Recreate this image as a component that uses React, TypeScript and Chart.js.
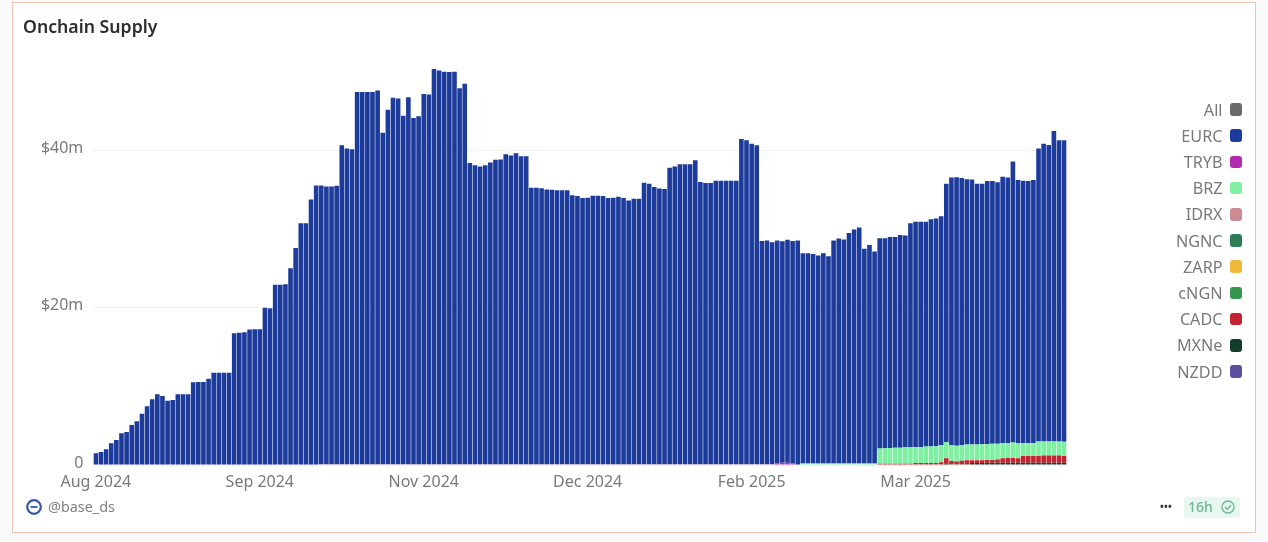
import { useEffect, useRef } from 'react';
import { Chart, registerables } from 'chart.js';

Chart.register(...registerables);

// one x label every 32 bars
const monthTicks = ['Aug 2024', 'Sep 2024', 'Nov 2024', 'Dec 2024', 'Feb 2025', 'Mar 2025'];
const yTicks = [0, 20, 40];
const LABEL_EVERY = 32;

// values in $m
const eurc = [
  1.48, 1.65, 1.99, 2.75, 3.17, 4.02, 4.19, 5.08, 5.54, 6.5,
  7.45, 8.34, 9.0, 8.76, 8.17, 8.25, 8.97, 8.99, 9.0, 10.5,
  10.55, 10.55, 10.96, 11.73, 11.73, 11.73, 11.73, 16.72, 16.8, 16.85,
  17.2, 17.25, 17.25, 19.98, 19.9, 22.9, 22.9, 22.95, 25.0, 27.55,
  30.7, 30.7, 33.7, 35.5, 35.4, 35.25, 35.25, 35.35, 40.5, 40.1,
  40.0, 47.25, 47.25, 47.25, 47.25, 47.45, 42.1, 45.0, 46.55, 46.45,
  44.25, 46.6, 43.95, 44.2, 47.0, 46.95, 50.2, 50.0, 49.85, 49.8,
  49.85, 47.75, 48.3, 38.25, 37.95, 37.8, 37.95, 38.3, 38.65, 38.7,
  39.35, 39.2, 39.5, 39.1, 39.1, 35.1, 35.1, 35.05, 34.9, 34.85,
  34.8, 34.8, 34.8, 34.15, 34.05, 33.8, 33.85, 34.1, 34.1, 34.05,
  33.8, 33.85, 33.95, 33.8, 33.5, 33.7, 33.7, 35.75, 35.6, 35.2,
  35.0, 34.95, 37.65, 37.8, 38.1, 38.1, 38.1, 38.6, 35.85, 35.7,
  35.7, 36.0, 36.0, 36.0, 36.0, 36.0, 41.3, 41.15, 40.7, 40.5,
  28.35, 28.4, 28.2, 28.3, 28.1, 28.3, 28.25, 28.5, 26.7, 26.7,
  26.6, 26.4, 26.7, 26.3, 28.3, 28.55, 28.45, 29.25, 29.7, 29.95,
  27.25, 27.75, 26.9, 26.7, 26.65, 26.8, 26.75, 27.0, 26.9, 28.45,
  28.6, 28.6, 28.55, 28.85, 28.9, 29.1, 32.8, 34.0, 34.1, 33.9,
  33.7, 33.65, 33.1, 33.05, 33.4, 33.35, 33.2, 33.85, 33.7, 35.7,
  33.4, 33.3, 33.3, 33.45, 37.2, 37.8, 37.65, 39.4, 38.25, 38.3,
];
const tryb = [
  0, 0, 0, 0, 0, 0, 0, 0, 0, 0, 0, 0, 0, 0, 0, 0, 0, 0, 0, 0,
  0, 0, 0, 0, 0, 0, 0, 0, 0, 0, 0, 0, 0, 0, 0, 0, 0, 0, 0, 0,
  0, 0, 0, 0, 0, 0, 0, 0, 0, 0, 0, 0, 0, 0, 0, 0, 0, 0, 0, 0,
  0, 0, 0, 0, 0, 0, 0, 0, 0, 0, 0, 0, 0, 0, 0, 0, 0, 0, 0, 0,
  0, 0, 0, 0, 0, 0, 0, 0, 0, 0, 0, 0, 0, 0, 0, 0, 0, 0, 0, 0,
  0, 0, 0, 0, 0, 0, 0, 0, 0, 0, 0, 0, 0, 0, 0, 0, 0, 0, 0, 0,
  0, 0, 0, 0, 0, 0, 0, 0, 0, 0, 0, 0, 0, 0.2, 0.3, 0.3, 0.2, 0, 0, 0,
  0, 0, 0, 0, 0, 0, 0, 0, 0, 0, 0, 0, 0, 0, 0, 0, 0, 0, 0, 0,
  0, 0, 0, 0, 0, 0, 0, 0, 0, 0, 0, 0, 0, 0, 0, 0, 0, 0, 0, 0, 0, 0, 0, 0, 0, 0, 0, 0, 0, 0,
];
const brz = [
  0, 0, 0, 0, 0, 0, 0, 0, 0, 0, 0, 0, 0, 0, 0, 0, 0, 0, 0, 0,
  0, 0, 0, 0, 0, 0, 0, 0, 0, 0, 0, 0, 0, 0, 0, 0, 0, 0, 0, 0,
  0, 0, 0, 0, 0, 0, 0, 0, 0, 0, 0, 0, 0, 0, 0, 0, 0, 0, 0, 0,
  0, 0, 0, 0, 0, 0, 0, 0, 0, 0, 0, 0, 0, 0, 0, 0, 0, 0, 0, 0,
  0, 0, 0, 0, 0, 0, 0, 0, 0, 0, 0, 0, 0, 0, 0, 0, 0, 0, 0, 0,
  0, 0, 0, 0, 0, 0, 0, 0, 0, 0, 0, 0, 0, 0, 0, 0, 0, 0, 0, 0,
  0, 0, 0, 0, 0, 0, 0, 0, 0, 0, 0, 0, 0, 0, 0, 0, 0, 0,
  0.2, 0.2, 0.2, 0.2, 0.2, 0.2, 0.2, 0.2, 0.2, 0.2, 0.2, 0.2, 0.2, 0.2, 0.2,
  1.95, 2.0, 2.0, 2.05, 2.05, 2.1, 2.1, 2.05, 2.05, 2.1, 2.1, 2.15, 2.15, 2.05, 2.0, 2.0, 2.0, 2.0, 2.0,
  2.0, 2.05, 2.0, 2.05, 2.0, 1.9, 1.9, 1.95, 1.95, 1.65, 1.6, 1.6, 1.85, 1.8, 1.8, 1.8, 1.8, 1.8,
];
const idrx = [
  0, 0, 0, 0, 0, 0, 0, 0, 0, 0, 0, 0, 0, 0, 0, 0, 0, 0, 0, 0,
  0, 0, 0, 0, 0, 0, 0, 0, 0, 0, 0, 0, 0, 0, 0, 0, 0, 0, 0, 0, 0, 0, 0, 0,
  0.1, 0.1, 0.1, 0.1, 0.1, 0.1, 0.1, 0.1, 0.1, 0.1, 0.1, 0.1, 0.1, 0.1, 0.1, 0.1, 0.1, 0.1, 0.1, 0.1,
  0.1, 0.1, 0.1, 0.1, 0.1, 0.1, 0.1, 0.1, 0.1, 0.1, 0.1, 0.1, 0.1, 0.1, 0.1, 0.1, 0.1, 0.1, 0.1, 0.1,
  0.1, 0.1, 0.1, 0.1, 0.1, 0.1, 0.1, 0.1, 0.1, 0.1, 0.1, 0.1, 0.1, 0.1, 0.1, 0.1, 0.1, 0.1, 0.1, 0.1,
  0.1, 0.1, 0.1, 0.1, 0.1, 0.1, 0.1, 0.1, 0.1, 0.1, 0.1, 0.1, 0.1, 0.1, 0.1, 0.1, 0.1, 0.1, 0.1, 0.1,
  0.1, 0.1, 0.1, 0.1, 0.1, 0.1, 0.1, 0.1, 0.1,
  0, 0, 0, 0, 0, 0, 0, 0, 0, 0, 0, 0, 0, 0, 0, 0, 0, 0, 0, 0,
  0, 0, 0, 0, 0, 0, 0, 0, 0, 0, 0, 0, 0, 0, 0, 0, 0, 0, 0, 0,
  0, 0, 0, 0, 0, 0, 0, 0, 0, 0, 0, 0, 0, 0, 0, 0, 0,
];
const cadc = [
  0, 0, 0, 0, 0, 0, 0, 0, 0, 0, 0, 0, 0, 0, 0, 0, 0, 0, 0, 0,
  0, 0, 0, 0, 0, 0, 0, 0, 0, 0, 0, 0, 0, 0, 0, 0, 0, 0, 0, 0,
  0, 0, 0, 0, 0, 0, 0, 0, 0, 0, 0, 0, 0, 0, 0, 0, 0, 0, 0, 0,
  0, 0, 0, 0, 0, 0, 0, 0, 0, 0, 0, 0, 0, 0, 0, 0, 0, 0, 0, 0,
  0, 0, 0, 0, 0, 0, 0, 0, 0, 0, 0, 0, 0, 0, 0, 0, 0, 0, 0, 0,
  0, 0, 0, 0, 0, 0, 0, 0, 0, 0, 0, 0, 0, 0, 0, 0, 0, 0, 0, 0,
  0, 0, 0, 0, 0, 0, 0, 0, 0, 0, 0, 0, 0, 0, 0, 0, 0, 0, 0, 0,
  0, 0, 0, 0, 0, 0, 0, 0, 0, 0, 0, 0, 0,
  0.1, 0.1, 0.1, 0.1, 0.1, 0.1, 0.1, 0.2, 0.2, 0.2, 0.2, 0.2, 0.3, 0.7, 0.4, 0.35, 0.45, 0.5, 0.35,
  0.35, 0.35, 0.35, 0.35, 0.4, 0.55, 0.6, 0.6, 0.55, 0.85, 0.85, 0.85, 0.85, 0.9, 0.9, 0.9, 0.9, 0.85,
];
const mxne = [
  0, 0, 0, 0, 0, 0, 0, 0, 0, 0, 0, 0, 0, 0, 0, 0, 0, 0, 0, 0,
  0, 0, 0, 0, 0, 0, 0, 0, 0, 0, 0, 0, 0, 0, 0, 0, 0, 0, 0, 0,
  0, 0, 0, 0, 0, 0, 0, 0, 0, 0, 0, 0, 0, 0, 0, 0, 0, 0, 0, 0,
  0, 0, 0, 0, 0, 0, 0, 0, 0, 0, 0, 0, 0, 0, 0, 0, 0, 0, 0, 0,
  0, 0, 0, 0, 0, 0, 0, 0, 0, 0, 0, 0, 0, 0, 0, 0, 0, 0, 0, 0,
  0, 0, 0, 0, 0, 0, 0, 0, 0, 0, 0, 0, 0, 0, 0, 0, 0, 0, 0, 0,
  0, 0, 0, 0, 0, 0, 0, 0, 0, 0, 0, 0, 0, 0, 0, 0, 0, 0, 0, 0,
  0, 0, 0, 0, 0, 0, 0, 0, 0, 0, 0, 0, 0,
  0.05, 0.05, 0.05, 0.05, 0.05, 0.05, 0.05, 0.05, 0.05, 0.05, 0.05, 0.05, 0.05, 0.15, 0.1, 0.1, 0.1, 0.1, 0.25,
  0.25, 0.25, 0.3, 0.3, 0.3, 0.3, 0.3, 0.3, 0.3, 0.3, 0.3, 0.3, 0.3, 0.3, 0.3, 0.3, 0.3, 0.3,
];

const categories = eurc.map((_, i) => (i % LABEL_EVERY === 0 ? monthTicks[i / LABEL_EVERY] : ''));

// legend order, top to bottom
const seriesNames = ['All', 'EURC', 'TRYB', 'BRZ', 'IDRX', 'NGNC', 'ZARP', 'cNGN', 'CADC', 'MXNe', 'NZDD'];
const seriesColors = ['#6a6a6a', '#1c3b9b', '#b32ab0', '#7fefa2', '#cc8a93', '#2e7d55', '#f0b93a', '#35964f', '#c4232f', '#123d2a', '#5e4f9e'];
// stacked from the baseline up
const stack: [string, number[]][] = [['MXNe', mxne], ['CADC', cadc], ['IDRX', idrx], ['BRZ', brz], ['TRYB', tryb], ['EURC', eurc]];

const font = "'Noto Sans', sans-serif";
const gray = '#77797c';

function SupplyChart() {
  const canvasRef = useRef<HTMLCanvasElement>(null);

  useEffect(() => {
    if (!canvasRef.current) return undefined;
    const chart = new Chart(canvasRef.current, {
      type: 'bar',
      data: {
        labels: categories,
        datasets: stack.map(([name, values]) => ({
          label: name,
          data: values,
          backgroundColor: seriesColors[seriesNames.indexOf(name)],
          barPercentage: 0.9,
          categoryPercentage: 1,
        })),
      },
      options: {
        animation: false,
        responsive: false,
        layout: { padding: { top: 55.5, right: 201.3, bottom: 37 } },
        plugins: { legend: { display: false }, tooltip: { enabled: false } },
        scales: {
          x: {
            stacked: true,
            grid: { display: false },
            border: { display: false },
            afterFit: scale => { scale.height = 40; },
            ticks: {
              autoSkip: false,
              maxRotation: 0,
              padding: 0,
              color: gray,
              font: { family: font, size: 16 },
            },
          },
          y: {
            stacked: true,
            min: 0,
            max: 52,
            grid: { color: '#f1f1f1', drawTicks: false },
            border: { display: false },
            afterFit: scale => { scale.width = 93.3; },
            afterBuildTicks: scale => { scale.ticks = yTicks.map(value => ({ value })); },
            ticks: {
              padding: 10,
              labelOffset: -2,
              color: gray,
              font: { family: font, size: 16 },
              callback: v => (v === 0 ? '0' : `$${v}m`),
            },
          },
        },
      },
    });
    return () => chart.destroy();
  }, []);

  // the reference is a soft screenshot, so take the edge off the canvas too
  return <canvas ref={canvasRef} width={1268} height={542} style={{ position: 'absolute', left: 0, top: 0, filter: 'blur(0.4px)' }} />;
}

export default function App() {
  return (
    <div style={{ position: 'absolute', left: 0, top: 0, width: 1268, height: 542, background: '#fafafb', overflow: 'hidden', fontFamily: font }}>
      <div style={{ position: 'absolute', left: 12, top: 2, width: 1242, height: 529, background: '#fff', border: '1px solid #f2c4b3' }} />
      <SupplyChart />
      <div style={{ position: 'absolute', left: 23, top: 14, fontSize: 17.7, fontWeight: 600, color: '#2b2d30' }}>Onchain Supply</div>
      {seriesNames.map((name, i) => (
        <div key={name} style={{ position: 'absolute', right: 26, top: 98.5 + i * 26.2, height: 22, display: 'flex', alignItems: 'center', gap: 7, fontSize: 16.2, color: gray }}>
          <span>{name}</span>
          <span style={{ width: 12.5, height: 12.5, borderRadius: 3, background: seriesColors[i] }} />
        </div>
      ))}
      <svg width={18} height={18} style={{ position: 'absolute', left: 25, top: 498 }}>
        <circle cx={9} cy={9} r={6.8} fill="none" stroke="#2f5aa8" strokeWidth={2.2} />
        <line x1={5.5} y1={9} x2={12.5} y2={9} stroke="#2f5aa8" strokeWidth={1.8} />
      </svg>
      <div style={{ position: 'absolute', left: 48, top: 497, fontSize: 14.4, color: '#7d7f82' }}>@base_ds</div>
      <div style={{ position: 'absolute', left: 1160, top: 499, fontSize: 10, fontWeight: 700, letterSpacing: 0.3, color: '#3a3a3a' }}>•••</div>
      <div style={{ position: 'absolute', left: 1184, top: 497, width: 56, height: 21, borderRadius: 3, background: '#e6f7ee' }} />
      <div style={{ position: 'absolute', left: 1188, top: 497, fontSize: 14, fontWeight: 500, color: '#6db595' }}>16h</div>
      <svg width={16} height={16} style={{ position: 'absolute', left: 1220, top: 499 }}>
        <circle cx={8} cy={8} r={6} fill="none" stroke="#6db595" strokeWidth={1.3} />
        <path d="M5 8 L7.3 10.2 L11 6" fill="none" stroke="#6db595" strokeWidth={1.3} />
      </svg>
    </div>
  );
}
